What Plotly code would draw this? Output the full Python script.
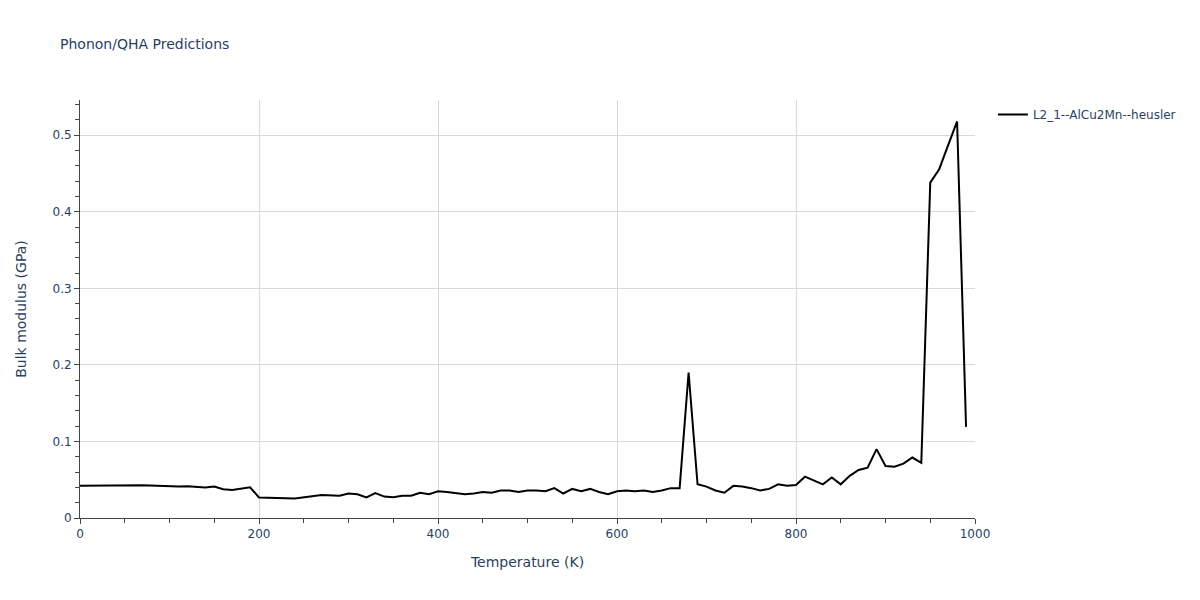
import plotly.graph_objects as go

temperature = [0, 70, 110, 120, 140, 150, 160, 170, 190, 200, 240, 250, 270, 290, 300, 310,
               320, 330, 340, 350, 360, 370, 380, 390, 400, 410, 430, 440, 450, 460, 470, 480,
               490, 500, 510, 520, 530, 540, 550, 560, 570, 580, 590, 600, 610, 620, 630, 640,
               650, 660, 670, 680, 690, 700, 710, 720, 730, 740, 750, 760, 770, 780, 790, 800,
               810, 830, 840, 850, 860, 870, 880, 890, 900, 910, 920, 930, 940, 950, 960, 970,
               980, 990]
bulk_modulus = [0.042, 0.0428, 0.041, 0.0415, 0.0398, 0.041, 0.0375, 0.0365, 0.040, 0.0268,
                0.0255, 0.027, 0.030, 0.029, 0.032, 0.031, 0.027, 0.0325, 0.028, 0.027,
                0.029, 0.029, 0.033, 0.031, 0.035, 0.034, 0.031, 0.032, 0.034, 0.033,
                0.036, 0.036, 0.034, 0.036, 0.036, 0.035, 0.039, 0.032, 0.038, 0.035,
                0.038, 0.034, 0.031, 0.035, 0.036, 0.035, 0.036, 0.034, 0.036, 0.039,
                0.039, 0.190, 0.044, 0.041, 0.036, 0.033, 0.042, 0.041, 0.039, 0.036,
                0.038, 0.044, 0.042, 0.043, 0.054, 0.044, 0.053, 0.044, 0.055, 0.0627,
                0.0657, 0.090, 0.068, 0.067, 0.071, 0.079, 0.072, 0.438, 0.4556, 0.487,
                0.518, 0.119]
series_name = "L2_1--AlCu2Mn--heusler"

fig = go.Figure()
fig.add_trace(go.Scatter(x=temperature, y=bulk_modulus, mode="lines", name=series_name,
                         line=dict(color="black", width=2), showlegend=True))

axis_common = dict(showline=True, linecolor="#444", linewidth=1, ticks="outside",
                   ticklen=5, tickcolor="#444", showgrid=True, gridcolor="#d9d9d9",
                   zeroline=False, automargin=True)
fig.update_layout(
    width=1200, height=600,
    template="none",
    paper_bgcolor="white", plot_bgcolor="white",
    font=dict(family="Verdana, DejaVu Sans, sans-serif", color="#2a3f5f", size=12),
    title=dict(text="Phonon/QHA Predictions", x=0.05, y=0.935, font=dict(size=14)),
    margin=dict(l=80, r=225, t=100, b=82),
    showlegend=True,
    legend=dict(x=1.02, y=1, xanchor="left", yanchor="top"),
    xaxis=dict(title=dict(text="Temperature (K)", standoff=16), range=[0, 1000], dtick=200,
               minor=dict(ticks="outside", dtick=50, ticklen=4, tickcolor="#444", showgrid=False),
               **axis_common),
    yaxis=dict(title=dict(text="Bulk modulus (GPa)", standoff=22), range=[0, 0.546], dtick=0.1,
               minor=dict(ticks="outside", dtick=0.02, ticklen=4, tickcolor="#444", showgrid=False),
               **axis_common),
)
fig.write_html("out.html", config={"displayModeBar": False},
               post_script="document.body.style.margin='0';")
